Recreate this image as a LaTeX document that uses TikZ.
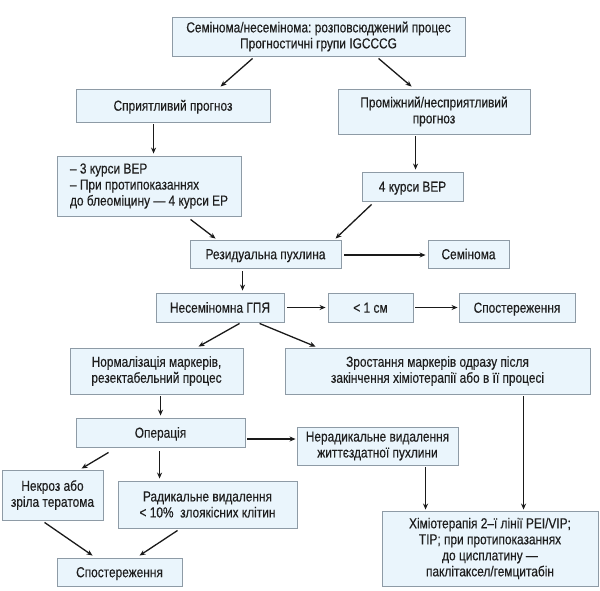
\documentclass[tikz,border=0pt]{standalone}
\usepackage{fontspec}
\setmainfont{Liberation Sans}[FakeStretch=0.82,FakeBold=0.3]
\usetikzlibrary{arrows.meta}
\definecolor{boxfill}{HTML}{EAF5FC}
\definecolor{boxline}{HTML}{8E9BA6}
\definecolor{txt}{HTML}{1E1E1E}
\definecolor{arrcol}{HTML}{1A1A1A}
\tikzset{
  box/.style={draw=boxline, fill=boxfill, line width=0.9pt, inner sep=0pt, align=center, text=txt,
    font=\fontsize{14.5}{16}\selectfont\frenchspacing},
  one/.style={text height=10.4pt, text depth=0pt},
  arr/.style={draw=arrcol, line width=1.3pt, -{Stealth[length=6pt,width=5pt]}},
}
\begin{document}
\begin{tikzpicture}[x=1pt,y=-1pt]
\useasboundingbox[fill=white] (0,0) rectangle (600,590);
% boxes
\node[box, minimum width=293pt, minimum height=39pt] (top) at (318.5,36.5) {Семінома/несемінома: розповсюджений процес\\Прогностичні групи IGCCCG};
\node[box, one, minimum width=194pt, minimum height=33pt] (spr) at (173,105.5) {Сприятливий прогноз};
\node[box, minimum width=192pt, minimum height=45pt] (pro) at (434,111.5) {Проміжний/несприятливий\\прогноз};
\node[box, minimum width=184pt, minimum height=60pt, align=left] (kur3) at (149,186) {– 3 курси BEP\\– При протипоказаннях\\до блеоміцину — 4 курси EP};
\node[box, one, minimum width=101pt, minimum height=29pt] (kur4) at (412.5,186.5) {4 курси BEP};
\node[box, one, minimum width=151pt, minimum height=28pt] (res) at (265.5,254) {Резидуальна пухлина};
\node[box, one, minimum width=81pt, minimum height=28pt] (sem) at (468.5,254) {Семінома};
\node[box, one, minimum width=128pt, minimum height=29pt] (nes) at (220,307.5) {Несеміномна ГПЯ};
\node[box, one, minimum width=85pt, minimum height=29pt] (lt1) at (370.5,307.5) {< 1 см};
\node[box, one, minimum width=116pt, minimum height=29pt] (obs1) at (517,307.5) {Спостереження};
\node[box, minimum width=173pt, minimum height=46pt] (norm) at (156.5,371) {Нормалізація маркерів,\\резектабельний процес};
\node[box, minimum width=305pt, minimum height=46pt] (zro) at (437.5,371) {Зростання маркерів одразу після\\закінчення хіміотерапії або в її процесі};
\node[box, one, minimum width=169pt, minimum height=29pt] (op) at (160.5,432.5) {Операція};
\node[box, minimum width=161pt, minimum height=38pt] (ner) at (377.5,446) {Нерадикальне видалення\\життєздатної пухлини};
\node[box, minimum width=101pt, minimum height=50pt] (nek) at (52.5,495) {Некроз або\\зріла тератома};
\node[box, minimum width=179pt, minimum height=47pt] (rad) at (207.5,504.5) {Радикальне видалення\\< 10\%\ \ злоякісних клітин};
\node[box, one, minimum width=125pt, minimum height=28pt] (obs2) at (119.5,572) {Спостереження};
\node[box, minimum width=216pt, minimum height=75pt] (chem) at (490,548.5) {Хіміотерапія 2–ї лінії PEI/VIP;\\TIP; при протипоказаннях\\до цисплатину —\\паклітаксел/гемцитабін};
% arrows
\draw[arr] ([shift={(81pt,-2pt)}]top.south west) -- ([shift={(145pt,2pt)}]spr.north west);
\draw[arr] ([shift={(207pt,-2pt)}]top.south west) -- ([shift={(74pt,2pt)}]pro.north west);
\draw[arr] ([shift={(78pt,-2pt)}]spr.south west) coordinate (a1) -- ([yshift=2pt]a1 |- kur3.north);
\draw[arr] ([shift={(78pt,-2pt)}]pro.south west) coordinate (a2) -- ([yshift=2pt]a2 |- kur4.north);
\draw[arr] ([shift={(134pt,-3pt)}]kur3.south west) -- ([shift={(26pt,1pt)}]res.north west);
\draw[arr] ([shift={(10pt,-3pt)}]kur4.south west) -- ([shift={(146pt,1pt)}]res.north west);
\draw[arr] ([shift={(3pt,-1pt)}]res.east) coordinate (a3) -- ([xshift=-2pt]sem.west |- a3);
\draw[arr] ([shift={(53pt,-3pt)}]res.south west) coordinate (a4) -- ([yshift=2pt]a4 |- nes.north);
\draw[arr] ([shift={(3pt,0pt)}]nes.east) -- ([xshift=-2pt]lt1.west);
\draw[arr] ([shift={(2pt,0pt)}]lt1.east) -- ([xshift=-1pt]obs1.west);
\draw[arr] ([shift={(84pt,-1pt)}]nes.south west) -- ([shift={(129pt,1pt)}]norm.north west);
\draw[arr] ([shift={(104pt,-1pt)}]nes.south west) -- ([shift={(31pt,1pt)}]zro.north west);
\draw[arr] ([shift={(91pt,-2pt)}]norm.south west) coordinate (a5) -- ([yshift=2pt]a5 |- op.north);
\draw[arr] ([shift={(2pt,-6.5pt)}]op.east) coordinate (a6) -- ([xshift=-1pt]ner.west |- a6);
\draw[arr] ([shift={(33pt,-5pt)}]op.south west) -- ([shift={(80pt,1pt)}]nek.north west);
\draw[arr] ([shift={(84pt,-4pt)}]op.south west) coordinate (a7) -- ([yshift=2pt]a7 |- rad.north);
\draw[arr] ([shift={(43pt,-2pt)}]nek.south west) -- ([shift={(36pt,2pt)}]obs2.north west);
\draw[arr] ([shift={(60pt,-2pt)}]rad.south west) -- ([shift={(83pt,2pt)}]obs2.north west);
\draw[arr] ([shift={(129pt,-2pt)}]ner.south west) coordinate (a8) -- ([yshift=1pt]a8 |- chem.north);
\draw[arr] ([shift={(239pt,-2pt)}]zro.south west) coordinate (a9) -- ([yshift=1pt]a9 |- chem.north);
\end{tikzpicture}
\end{document}
